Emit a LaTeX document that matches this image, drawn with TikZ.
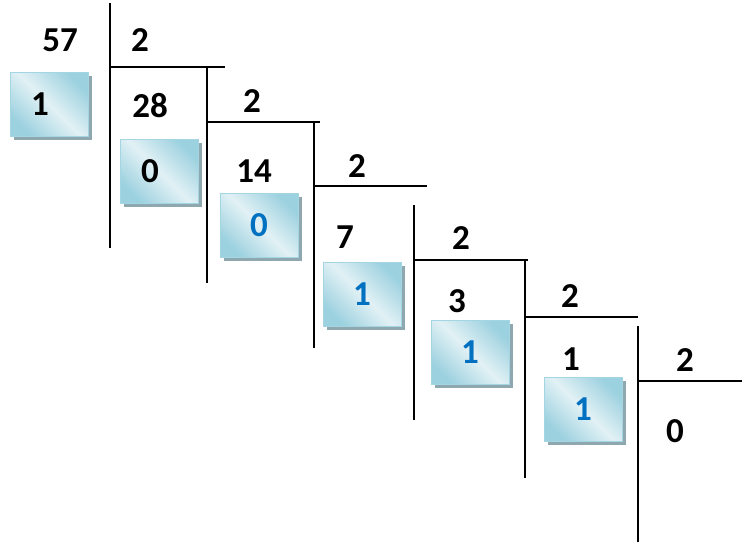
\documentclass[tikz,border=0pt]{standalone}
\usepackage{fontspec}
\setmainfont{Carlito}
\usepackage{xcolor}
\usepackage{tikz}
\usetikzlibrary{shadows}
\definecolor{remblue}{HTML}{0070C0}
\definecolor{boxedge}{HTML}{A3D6E2}
\definecolor{boxdark}{HTML}{9CD1DF}
\definecolor{boxlight}{HTML}{E2F1F5}
\definecolor{boxshadow}{HTML}{8FA7AF}

\begin{document}
\begin{tikzpicture}[
  x=1pt, y=-1pt,
  num/.style={font=\fontsize{35}{35}\selectfont\bfseries, inner sep=0pt},
  rem/.style={rectangle, draw=boxedge, line width=1pt, minimum width=78pt, minimum height=64pt,
    left color=boxdark, right color=boxdark, middle color=boxlight, shading angle=-45,
    drop shadow={shadow xshift=3.5pt, shadow yshift=-4pt, fill=boxshadow, opacity=1},
    font=\fontsize{35}{35}\selectfont\bfseries},
  bar/.style={line width=1.7pt},
]
  \useasboundingbox (0,0) rectangle (742,544);
  % bars of the ladder
  \draw[bar] (110,3) -- (110,248);   \draw[bar] (110,67) -- (225,67);
  \draw[bar] (207,67) -- (207,283);  \draw[bar] (207,122) -- (320,122);
  \draw[bar] (314,122) -- (314,348); \draw[bar] (314,186) -- (427,186);
  \draw[bar] (414,205) -- (414,420); \draw[bar] (414,260) -- (528,260);
  \draw[bar] (525,260) -- (525,478); \draw[bar] (525,317) -- (638,317);
  \draw[bar] (638,326) -- (638,542); \draw[bar] (638,381) -- (742,381);
  % dividends and divisors
  \node[num] (n57) at (60,40) {57};
  \node[num] (d0) at (140,40) {2};
  \node[num] (n28) at (150,106) {28};
  \node[num] (d1) at (252,101) {2};
  \node[num] (n14) at (254,171) {14};
  \node[num] (d2) at (357,166) {2};
  \node[num] (n7) at (345,237) {7};
  \node[num] (d3) at (461,238) {2};
  \node[num] (n3) at (457,301) {3};
  \node[num] (d4) at (570,296) {2};
  \node[num] (n1) at (571,359) {1};
  \node[num] (d5) at (685,360) {2};
  \node[num] (n0) at (675,431) {0};
  % remainders
  \node[rem] (r0) at (49,104) {\hspace*{-18pt}1};
  \node[rem] (r1) at (159,171) {\hspace*{-18pt}0};
  \node[rem, text=remblue] (r2) at (259,225) {0};
  \node[rem, text=remblue] (r3) at (362,294) {1};
  \node[rem, text=remblue] (r4) at (470,352) {1};
  \node[rem, text=remblue] (r5) at (583,409) {1};
\end{tikzpicture}
\end{document}
